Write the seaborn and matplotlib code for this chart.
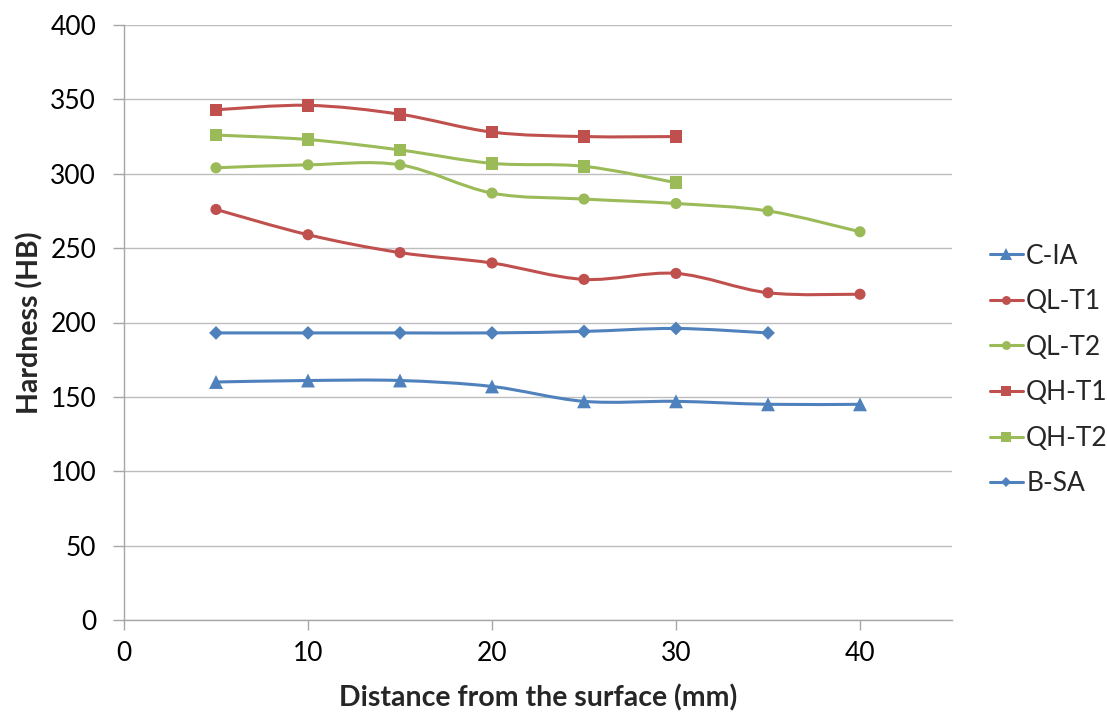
import numpy as np
import pandas as pd
import matplotlib
matplotlib.use("Agg")
import matplotlib.pyplot as plt
from matplotlib.path import Path
from matplotlib.patches import PathPatch
from matplotlib.lines import Line2D
import seaborn as sns

# Hardness profiles (HB) versus distance from the surface (mm)
distance = [5, 10, 15, 20, 25, 30, 35, 40]
c_ia = [160, 161, 161, 157, 147, 147, 145, 145]
ql_t1 = [276, 259, 247, 240, 229, 233, 220, 219]
ql_t2 = [304, 306, 306, 287, 283, 280, 275, 261]
qh_t1 = [343, 346, 340, 328, 325, 325]
qh_t2 = [326, 323, 316, 307, 305, 294]
b_sa = [193, 193, 193, 193, 194, 196, 193]

series = ["C-IA", "QL-T1", "QL-T2", "QH-T1", "QH-T2", "B-SA"]
values = [c_ia, ql_t1, ql_t2, qh_t1, qh_t2, b_sa]

blue, red, green = "#4F81BD", "#C0504D", "#9BBB59"
styles = {
    "C-IA": (blue, "^", 10),
    "QL-T1": (red, "o", 8),
    "QL-T2": (green, "o", 8),
    "QH-T1": (red, "s", 9),
    "QH-T2": (green, "s", 9),
    "B-SA": (blue, "D", 7),
}

frames = []
for name, vals in zip(series, values):
    frames.append(pd.DataFrame({"distance": distance[:len(vals)],
                                "hardness": vals, "series": name}))
df = pd.concat(frames, ignore_index=True)

sns.set_theme(style="white")
plt.rcParams["font.family"] = ["Lato", "DejaVu Sans"]

fig = plt.figure(figsize=(11.07, 7.15), dpi=100)
ax = fig.add_axes([124 / 1107, 1 - 620 / 715, (952 - 124) / 1107, (620 - 25) / 715])


def smooth_path(xs, ys):
    """Cubic Bezier path through the points (Catmull-Rom style tangents)."""
    pts = np.column_stack([xs, ys]).astype(float)
    n = len(pts)
    verts = [pts[0]]
    codes = [Path.MOVETO]
    for i in range(n - 1):
        p0 = pts[i - 1] if i > 0 else pts[i]
        p1 = pts[i]
        p2 = pts[i + 1]
        p3 = pts[i + 2] if i + 2 < n else pts[i + 1]
        c1 = p1 + (p2 - p0) / 6.0
        c2 = p2 - (p3 - p1) / 6.0
        verts += [c1, c2, p2]
        codes += [Path.CURVE4] * 3
    return Path(verts, codes)


handles = []
for name in series:
    color, marker, ms = styles[name]
    sub = df[df["series"] == name]
    patch = PathPatch(smooth_path(sub["distance"], sub["hardness"]),
                      facecolor="none", edgecolor=color, lw=2.2,
                      transform=ax.transData, zorder=2)
    ax.add_patch(patch)
    sns.scatterplot(data=sub, x="distance", y="hardness", ax=ax,
                    marker=marker, s=ms ** 2, color=color,
                    edgecolor="none", linewidth=0, zorder=3, legend=False)
    handles.append(Line2D([], [], color=color, lw=2.2, marker=marker,
                          markersize=ms * 0.8, markeredgewidth=0))

ax.set_xlim(0, 45)
ax.set_ylim(0, 400)
ax.set_xticks([0, 10, 20, 30, 40])
ax.set_yticks(range(0, 401, 50))
ax.yaxis.grid(True, color="#BDBDBD", lw=1)
ax.xaxis.grid(False)
ax.set_axisbelow(True)
for side in ["top", "right"]:
    ax.spines[side].set_visible(False)
for side in ["left", "bottom"]:
    ax.spines[side].set_color("#A6A6A6")
    ax.spines[side].set_linewidth(1)
ax.tick_params(axis="y", labelsize=19, colors="black", length=8, width=1,
               direction="out", color="#A6A6A6", left=True, pad=12)
ax.tick_params(axis="x", labelsize=19, colors="black", length=7, width=1,
               direction="out", color="#A6A6A6", bottom=True, pad=8)
ax.set_xlabel("Distance from the surface (mm)", fontsize=20.5, fontweight="bold", labelpad=13)
ax.set_ylabel("Hardness (HB)", fontsize=20.5, fontweight="bold", labelpad=5)

fig.legend(handles, series, loc="center left", bbox_to_anchor=(990 / 1107, 1 - 370 / 715),
           frameon=False, fontsize=19, handlelength=1.25, handletextpad=0.12,
           labelspacing=0.78, borderpad=0, borderaxespad=0)

fig.savefig("out.png", dpi=100)
